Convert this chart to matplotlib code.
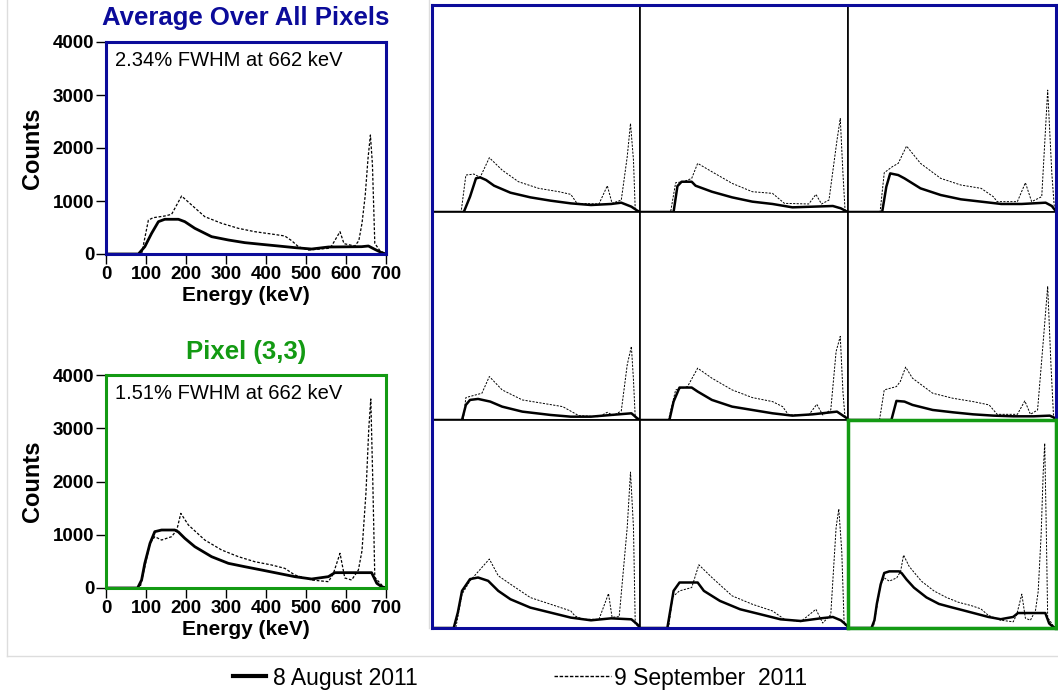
import matplotlib
matplotlib.use("Agg")
import matplotlib.pyplot as plt
from matplotlib.lines import Line2D

plt.rcParams['font.family'] = ['Liberation Sans', 'DejaVu Sans']

# (energy keV, counts)
avg_aug = [(0,0),(81,0),(97,138),(114,390),(131,610),(147,655),(181,655),(197,610),(222,485),(264,327),
           (306,264),(347,214),(389,182),(431,151),(472,120),(514,94),(556,132),(639,138),(656,151),
           (672,88),(689,25),(700,0)]
avg_sep = [(0,0),(89,0),(106,640),(118,685),(147,717),(164,749),(189,1094),(214,925),(247,704),(289,579),
           (331,484),(372,421),(414,377),(447,340),(464,252),(481,138),(506,75),(556,107),(564,151),
           (585,421),(595,195),(622,151),(632,250),(640,580),(648,1100),(655,1800),(661,2245),(666,1700),
           (672,200),(685,60),(700,0)]

pix33_aug = [(0,0),(79,0),(89,150),(97,463),(110,839),(122,1058),(139,1089),(172,1089),(181,1052),(197,933),
             (222,776),(264,588),(306,463),(347,400),(389,338),(431,275),(472,213),(514,169),(556,213),
             (572,288),(622,288),(664,288),(677,88),(689,25),(700,0)]
pix33_sep = [(0,0),(85,0),(97,400),(110,839),(122,964),(139,901),(164,964),(177,1089),(187,1402),(206,1183),
             (247,901),(289,714),(331,588),(372,494),(414,432),(447,369),(472,244),(514,150),(556,119),
             (568,263),(585,651),(597,188),(614,150),(631,338),(640,700),(650,1800),(657,3000),(662,3550),
             (667,2000),(672,200),(690,50),(700,0)]

p11_aug = [(0,0),(107,0),(128,296),(148,650),(162,669),(182,618),(209,508),(264,373),(331,283),(399,219),
           (467,167),(535,135),(603,155),(637,180),(671,103),(691,26),(700,0)]
p11_sep = [(0,0),(98,0),(114,714),(141,733),(162,669),(193,1049),(236,810),(291,585),(359,457),(427,392),
           (467,341),(488,167),(562,155),(590,508),(606,167),(637,231),(657,1068),(668,1711),(678,1004),
           (684,39),(700,0)]
p12_aug = [(0,0),(113,0),(126,500),(140,585),(174,585),(187,508),(242,392),(310,283),(378,200),(446,155),
           (513,90),(581,103),(649,116),(676,71),(697,6),(700,0)]
p12_sep = [(0,0),(103,0),(120,566),(147,585),(174,650),(194,940),(242,778),(310,553),(378,392),(446,360),
           (486,167),(568,155),(592,341),(611,155),(636,231),(663,1390),(674,1808),(683,746),(690,39),(700,0)]
p13_aug = [(0,0),(115,0),(129,489),(142,746),(169,714),(190,650),(244,457),(312,328),(380,245),(448,200),
           (516,155),(584,155),(665,180),(686,116),(698,26),(700,0)]
p13_sep = [(0,0),(108,0),(122,759),(149,875),(169,940),(197,1274),(244,940),(312,650),(380,521),(448,457),
           (489,296),(502,200),(570,200),(597,566),(618,200),(652,296),(672,2355),(686,740),(695,39),(700,0)]
p21_aug = [(0,0),(101,0),(114,290),(128,386),(155,405),(196,354),(236,257),(304,161),(399,97),(467,64),
           (535,64),(603,97),(671,129),(691,32),(700,0)]
p21_sep = [(0,0),(105,0),(114,431),(168,515),(193,836),(236,579),(304,386),(372,322),(440,257),(494,84),
           (562,64),(590,148),(610,84),(637,174),(657,1062),(671,1415),(678,772),(684,45),(700,0)]
p22_aug = [(0,0),(99,0),(113,354),(133,624),(174,624),(194,547),(242,386),(310,257),(378,193),(446,129),
           (513,84),(581,109),(663,161),(683,84),(697,32),(700,0)]
p22_sep = [(0,0),(96,0),(120,579),(160,643),(194,997),(242,804),(310,579),(378,431),(446,354),(480,257),
           (500,97),(568,97),(595,302),(615,97),(642,193),(660,1319),(674,1608),(683,540),(690,45),(700,0)]
p23_aug = [(0,0),(146,0),(163,367),(190,354),(217,290),(285,193),(353,148),(421,109),(489,84),(557,71),
           (625,71),(679,84),(699,32),(700,0)]
p23_sep = [(0,0),(106,0),(122,579),(163,643),(176,740),(194,1017),(217,804),(285,515),(353,418),(421,354),
           (475,290),(502,109),(570,109),(595,367),(614,109),(638,193),(658,1576),(672,2573),(683,1062),
           (692,32),(700,0)]
p31_aug = [(0,0),(73,0),(87,300),(101,714),(128,940),(155,971),(189,907),(223,714),(264,553),(331,392),
           (399,296),(467,200),(535,148),(603,186),(671,167),(691,71),(700,13)]
p31_sep = [(0,0),(80,0),(101,650),(128,907),(193,1326),(223,1004),(264,843),(331,585),(399,457),(467,328),
           (481,232),(508,167),(562,167),(594,662),(606,206),(630,219),(657,1936),(668,2998),(678,1936),
           (684,77),(700,0)]
p32_aug = [(0,0),(92,0),(113,714),(133,875),(174,875),(194,875),(215,714),(269,521),(337,360),(405,264),
           (473,167),(541,135),(608,186),(649,212),(676,148),(697,45),(700,0)]
p32_sep = [(0,0),(96,0),(110,600),(133,714),(174,778),(198,1216),(242,971),(310,618),(378,457),(446,328),
           (486,167),(541,122),(592,360),(615,96),(642,257),(660,1936),(669,2290),(679,1478),(687,77),(700,0)]

grid = [[(p11_aug, p11_sep), (p12_aug, p12_sep), (p13_aug, p13_sep)],
        [(p21_aug, p21_sep), (p22_aug, p22_sep), (p23_aug, p23_sep)],
        [(p31_aug, p31_sep), (p32_aug, p32_sep), (pix33_aug, pix33_sep)]]

label_aug = '8 August 2011'
label_sep = '9 September  2011'
navy = '#0b0b9a'
green = '#139a13'
dash = (0, (2.2, 1.4))

W, H = 1058, 694
fig = plt.figure(figsize=(W / 100, H / 100), dpi=100)


def ax_px(x0, y0, x1, y1):
    return fig.add_axes([x0 / W, 1 - y1 / H, (x1 - x0) / W, (y1 - y0) / H])


def draw(ax, aug, sep, lw1, lw2):
    ax.plot(*zip(*sep), color='black', lw=lw2, ls=dash)
    ax.plot(*zip(*aug), color='black', lw=lw1)
    ax.set_xlim(0, 700)
    ax.set_ylim(0, 4000)


# light grey page frame
fig.add_artist(Line2D([7 / W, 7 / W], [1, 1 - 656 / H], color='#dddddd', lw=1))
fig.add_artist(Line2D([7 / W, 1], [1 - 656 / H, 1 - 656 / H], color='#dddddd', lw=1))
fig.add_artist(Line2D([429 / W, 429 / W], [1, 1 - 628 / H], color='#dddddd', lw=1))

# left panels
left = [((106, 42, 386, 254), avg_aug, avg_sep, navy, 'Average Over All Pixels', '2.34% FWHM at 662 keV', 18),
        ((106, 375, 386, 588), pix33_aug, pix33_sep, green, 'Pixel (3,3)', '1.51% FWHM at 662 keV', 352)]
for box, aug, sep, col, title, note, ty in left:
    ax = ax_px(*box)
    draw(ax, aug, sep, 2.0, 0.9)
    ax.set_xticks(range(0, 701, 100))
    ax.set_yticks(range(0, 4001, 1000))
    for s in ax.spines.values():
        s.set_color(col)
        s.set_linewidth(2.2)
    ax.tick_params(direction='out', length=7, width=1, pad=1.5, labelsize=13.5)
    for t in ax.get_xticklabels() + ax.get_yticklabels():
        t.set_fontweight('bold')
    ax.set_xlabel('Energy (keV)', fontsize=15, fontweight='bold', labelpad=2)
    ax.set_ylabel('Counts', fontsize=17, fontweight='bold', labelpad=6)
    fig.text(246 / W, 1 - ty / H, title, fontsize=18.5, fontweight='bold', color=col, ha='center', va='center')
    ax.text(0.032, 0.915, note, transform=ax.transAxes, fontsize=14.5, va='center')

# 3x3 grid of pixels
xs = [432, 640, 848, 1056]
ys = [5, 212, 420, 628]
for r in range(3):
    for c in range(3):
        ax = ax_px(xs[c], ys[r], xs[c + 1], ys[r + 1])
        aug, sep = grid[r][c]
        draw(ax, aug, sep, 1.8, 0.7)
        ax.set_xticks([])
        ax.set_yticks([])
        for s in ax.spines.values():
            s.set_linewidth(1.2)

outer = ax_px(432, 5, 1056, 628)
outer.patch.set_alpha(0)
outer.set_xticks([])
outer.set_yticks([])
for s in outer.spines.values():
    s.set_color(navy)
    s.set_linewidth(2.2)

g = ax_px(848, 420, 1056, 628)
g.patch.set_alpha(0)
g.set_xticks([])
g.set_yticks([])
for s in g.spines.values():
    s.set_color(green)
    s.set_linewidth(2.5)

# legend
h1 = Line2D([], [], color='black', lw=3)
h2 = Line2D([], [], color='black', lw=1, ls=(0, (2.5, 1.2)))
fig.legend([h1], [label_aug], loc='center left', bbox_to_anchor=(212 / W, 1 - 678 / H), frameon=False,
           handlelength=1.45, handletextpad=0.3, prop={'size': 16.5})
fig.legend([h2], [label_sep], loc='center left', bbox_to_anchor=(533 / W, 1 - 678 / H), frameon=False,
           handlelength=2.5, handletextpad=0.15, prop={'size': 16.5})

fig.savefig('out.png', dpi=100)
